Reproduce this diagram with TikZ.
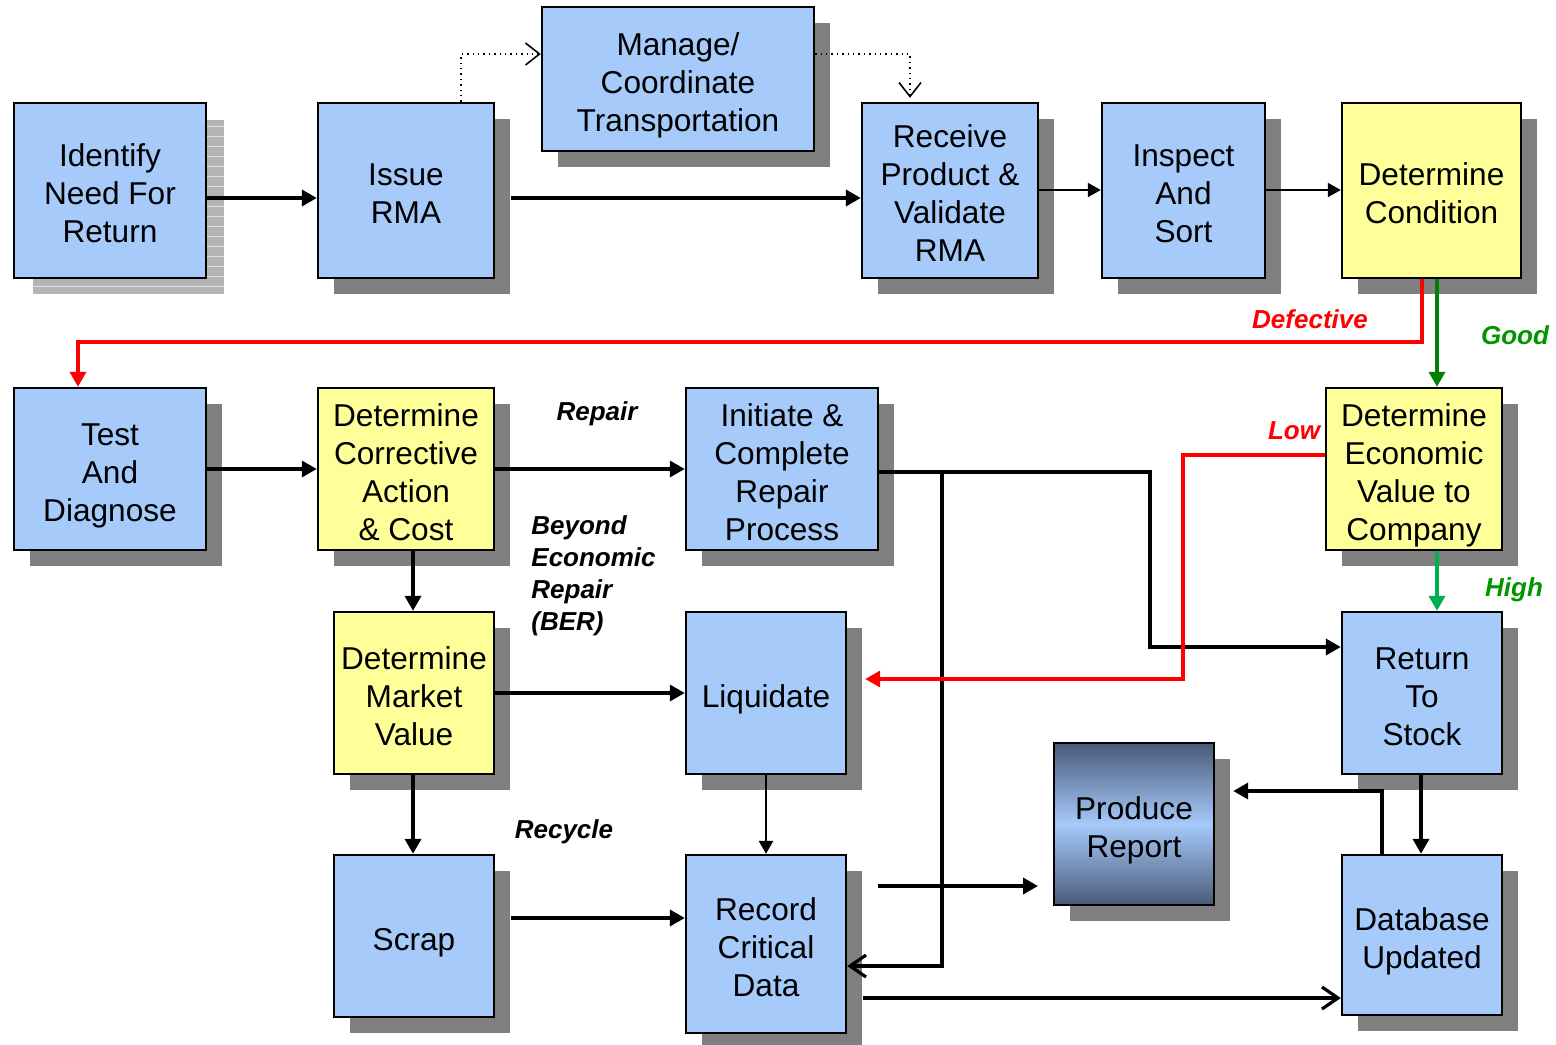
\documentclass[tikz,border=0pt]{standalone}
\usepackage{fontspec}
\setmainfont{Liberation Sans}
\usetikzlibrary{arrows.meta,shadows}
\definecolor{boxblue}{RGB}{166,202,250}
\definecolor{boxyellow}{RGB}{255,255,153}
\definecolor{shadowgray}{RGB}{128,128,128}
\definecolor{hatchgray}{RGB}{180,180,180}
\definecolor{darkgreen}{RGB}{0,128,0}
\definecolor{lightgreen}{RGB}{0,176,80}
\definecolor{labelgreen}{RGB}{0,150,0}
\definecolor{slate}{RGB}{74,90,120}
\definecolor{redline}{RGB}{255,0,0}
\newcommand\tstart{\rule{0pt}{17.5pt}}
\newcommand\tfinish{\rule[-3.5pt]{0pt}{3.5pt}}
\begin{document}
\begin{tikzpicture}[x=0.5pt,y=-0.5pt,
  boxbase/.style={draw=black,line width=1.2pt,align=center,inner sep=0pt,
    font=\fontsize{15.8}{19}\selectfont},
  shadowed/.style={boxbase,drop shadow={shadow xshift=8pt,shadow yshift=-8pt,fill=shadowgray,opacity=1}},
  bluebox/.style={shadowed,fill=boxblue},
  yellowbox/.style={shadowed,fill=boxyellow},
  gradbox/.style={shadowed,top color=slate,bottom color=slate,middle color=boxblue},
  lbl/.style={font=\fontsize{13}{16}\selectfont\bfseries\itshape,inner sep=0pt,align=left},
  thickarr/.style={line width=1.8pt,-{Triangle[length=7.5pt,width=8pt]}},
  thinarr/.style={line width=1pt,-{Triangle[length=6.5pt,width=7pt]}},
  openarr/.style={line width=1.8pt,-{Straight Barb[length=8pt,width=11pt,line width=1.6pt]}},
  dotarr/.style={line width=0.7pt,dotted,-{Straight Barb[length=7pt,width=11pt,line width=0.8pt,sep=0pt]}},
  redarr/.style={line width=1.7pt,draw=redline,-{Triangle[length=7.5pt,width=8pt]}},
  greenarr/.style={line width=1.8pt,-{Triangle[length=7.5pt,width=8pt]}}
]
\useasboundingbox (0,0) rectangle (1556,1044);

% hatched shadow of the first box
\fill[hatchgray] (33,120) rectangle (224,294);
\foreach \yy in {126,136,...,290} \draw[white!60!hatchgray,line width=0.4pt] (33,\yy) -- (224,\yy);

% boxes
\node[boxbase,fill=boxblue,minimum width=96pt,minimum height=87.5pt] (identify) at (110,190.5) {\tstart Identify\\Need For\\Return\tfinish};
\node[bluebox,minimum width=88pt,minimum height=87.5pt] (issue) at (406,190.5) {\tstart Issue\\RMA\tfinish};
\node[bluebox,minimum width=136pt,minimum height=72pt] (manage) at (678,79) {\tstart Manage/\\Coordinate\\Transportation\tfinish};
\node[bluebox,minimum width=88pt,minimum height=87.5pt] (receive) at (950,190.5) {\tstart Receive\\Product \&\\Validate\\RMA\tfinish};
\node[bluebox,minimum width=81.5pt,minimum height=87.5pt] (inspect) at (1183.5,190.5) {\tstart Inspect\\And\\Sort\tfinish};
\node[yellowbox,minimum width=89.5pt,minimum height=87.5pt] (cond) at (1431.5,190.5) {\tstart Determine\\Condition\tfinish};
\node[bluebox,minimum width=96pt,minimum height=81pt] (test) at (110,469) {\tstart Test\\And\\Diagnose\tfinish};
\node[yellowbox,minimum width=88pt,minimum height=81pt] (corr) at (406,469) {\tstart Determine\\Corrective\\Action\\\& Cost\tfinish};
\node[bluebox,minimum width=96pt,minimum height=81pt] (init) at (782,469) {\tstart Initiate \&\\Complete\\Repair\\Process\tfinish};
\node[yellowbox,minimum width=88pt,minimum height=81pt] (econ) at (1414,469) {\tstart Determine\\Economic\\Value to\\Company\tfinish};
\node[yellowbox,minimum width=80pt,minimum height=81pt] (market) at (414,693) {\tstart Determine\\Market\\Value\tfinish};
\node[bluebox,minimum width=80pt,minimum height=81pt] (liq) at (766,693) {\tstart Liquidate\tfinish};
\node[bluebox,minimum width=80pt,minimum height=81pt] (rts) at (1422,693) {\tstart Return\\To\\Stock\tfinish};
\node[gradbox,minimum width=80pt,minimum height=81pt] (report) at (1134,824) {\tstart Produce\\Report\tfinish};
\node[bluebox,minimum width=80pt,minimum height=81pt] (scrap) at (414,936) {\tstart Scrap\tfinish};
\node[bluebox,minimum width=80pt,minimum height=89pt] (record) at (766,944) {\tstart Record\\Critical\\Data\tfinish};
\node[bluebox,minimum width=80pt,minimum height=80pt] (db) at (1422,935) {\tstart Database\\Updated\tfinish};

% labels
\node[lbl,text=redline] (ldef) at (1310,319) {Defective};
\node[lbl,text=labelgreen] (lgood) at (1515,335) {Good};
\node[lbl] (lrep) at (597,414) {Repair};
\node[lbl,anchor=north west] (lber) at (531,515) {Beyond\\Economic\\Repair\\(BER)};
\node[lbl,text=redline] (llow) at (1294,431) {Low};
\node[lbl,text=labelgreen] (lhigh) at (1514,590) {High};
\node[lbl] (lrec) at (564,832) {Recycle};

% connectors
\draw[thickarr] (identify.east |- 0,198) -- (issue.west |- 0,198);
\draw[thickarr] ([xshift=8pt]issue.east |- 0,198) -- (receive.west |- 0,198);
\draw[dotarr] (issue.north -| 461,0) |- (manage.west |- 0,54);
\draw[dotarr] (manage.east |- 0,54) -| ([yshift=2pt]receive.north -| 910,0);
\draw[thinarr] (receive.east |- 0,190) -- (inspect.west |- 0,190);
\draw[thinarr] (inspect.east |- 0,190) -- (cond.west |- 0,190);
\draw[redarr] (cond.south -| 1422,0) -- (1422,342) -| (test.north -| 78,0);
\draw[greenarr,draw=darkgreen] (cond.south -| 1437,0) -- (econ.north -| 1437,0);
\draw[thickarr] (test.east) -- (corr.west);
\draw[thickarr] (corr.east) -- (init.west);
\draw[thickarr] (corr.south -| 413,0) -- (market.north -| 413,0);
\draw[thickarr] (market.east) -- (liq.west);
\coordinate (junc) at (942,472);
\draw[thickarr] (init.east |- 0,472) -| (1150,647) -- (rts.west |- 0,647);
\draw[openarr] (junc) -- (942,966) -- (record.east |- 0,966);
\draw[redarr] (econ.west |- 0,455) -| (1183,679) -- ([xshift=9pt]liq.east |- 0,679);
\draw[greenarr,draw=lightgreen] (econ.south -| 1437,0) -- (rts.north -| 1437,0);
\draw[thinarr,line width=1.4pt] (liq.south) -- (record.north);
\draw[thickarr] (market.south -| 413,0) -- (scrap.north -| 413,0);
\draw[thickarr] ([xshift=8pt]scrap.east |- 0,918) -- (record.west |- 0,918);
\coordinate (fa) at (878,886);
\coordinate (fb) at (1038,886);
\draw[thickarr] (fa) -- (fb);
\draw[openarr] ([xshift=8pt]record.east |- 0,998) -- (db.west |- 0,998);
\draw[thickarr] (rts.south -| 1421,0) -- (db.north -| 1421,0);
\draw[thickarr] (db.north -| 1382,0) |- ([xshift=9pt]report.east |- 0,791);
\end{tikzpicture}
\end{document}
